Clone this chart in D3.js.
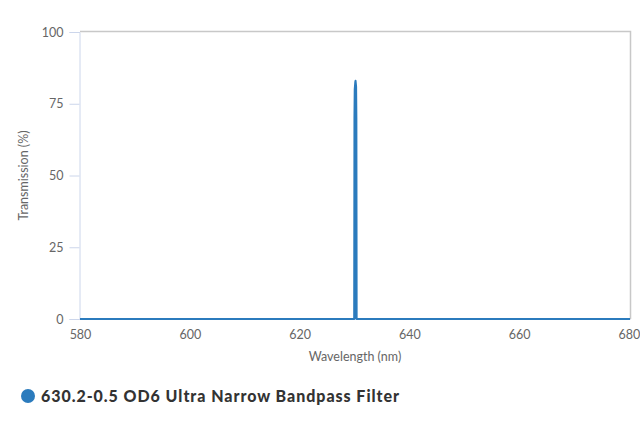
<!DOCTYPE html>
<html>
<head>
<meta charset="utf-8">
<script src="https://cdn.jsdelivr.net/npm/d3@7"></script>
<style>
  body { margin: 0; background: #fff; }
  text { font-family: Lato, "Open Sans", sans-serif; }
</style>
</head>
<body>
<div id="chart"></div>
<script>
// Transmission curve
const wavelengths = [580, 629.95, 630.0, 630.05, 630.15, 630.2, 630.25, 630.3, 630.35, 630.4, 680.2];
const transmission = [0, 0, 70, 80, 82.5, 83, 82, 81, 70, 0, 0];
const xTicks = [580, 600, 620, 640, 660, 680];
const yTicks = [0, 25, 50, 75, 100];
const seriesName = "630.2-0.5 OD6 Ultra Narrow Bandpass Filter";

const width = 640, height = 427;
const margin = { top: 32, right: 10, bottom: 108, left: 80 };

const svg = d3.select("#chart").append("svg")
  .attr("width", width)
  .attr("height", height);

const x = d3.scaleLinear()
  .domain([580, 680.2])
  .range([margin.left, width - margin.right]);

const y = d3.scaleLinear()
  .domain([0, 100])
  .range([height - margin.bottom, margin.top]);

// Plot frame (top and right)
svg.append("path")
  .attr("d", `M${x(580)},${y(100) - 0.5}H${x(680.2) + 0.5}V${y(0)}`)
  .attr("fill", "none")
  .attr("stroke", "#c8c8c8")
  .attr("stroke-width", 1.5);

// Y axis
const yAxis = svg.append("g")
  .attr("transform", `translate(${margin.left - 0.5},0)`)
  .call(d3.axisLeft(y).tickValues(yTicks).tickSize(10).tickPadding(6));
yAxis.select(".domain").attr("stroke", "#ccd6eb");
yAxis.selectAll(".tick line").attr("stroke", "#ccd6eb");
yAxis.selectAll(".tick text")
  .attr("fill", "#666")
  .style("font-size", "12.5px");

// X axis
const xAxis = svg.append("g")
  .attr("transform", `translate(0,${y(0)})`)
  .call(d3.axisBottom(x).tickValues(xTicks).tickSize(0).tickPadding(11));
xAxis.select(".domain").attr("stroke", "#ccd6eb");
xAxis.selectAll(".tick text")
  .attr("fill", "#666")
  .style("font-size", "12.5px");

// Axis titles
svg.append("text")
  .attr("x", (x(580) + x(680.2)) / 2)
  .attr("y", 361)
  .attr("text-anchor", "middle")
  .attr("fill", "#666")
  .style("font-size", "12.5px")
  .text("Wavelength (nm)");

svg.append("text")
  .attr("transform", `translate(28,${(y(0) + y(100)) / 2}) rotate(-90)`)
  .attr("text-anchor", "middle")
  .attr("fill", "#666")
  .style("font-size", "12.5px")
  .text("Transmission (%)");

// Series line
const data = wavelengths.map((w, i) => ({ w, t: transmission[i] }));
const line = d3.line()
  .x(d => x(d.w))
  .y(d => y(d.t));

svg.append("path")
  .datum(data)
  .attr("d", line)
  .attr("fill", "#2b7bbd")
  .attr("stroke", "#2b7bbd")
  .attr("stroke-width", 2)
  .attr("stroke-linejoin", "round");

// Legend
svg.append("circle")
  .attr("cx", 28)
  .attr("cy", 396)
  .attr("r", 7)
  .attr("fill", "#2b7bbd");

svg.append("text")
  .attr("x", 41)
  .attr("y", 402)
  .attr("fill", "#333")
  .attr("textLength", 358)
  .style("font-size", "16px")
  .style("font-weight", "900")
  .text(seriesName);
</script>
</body>
</html>
